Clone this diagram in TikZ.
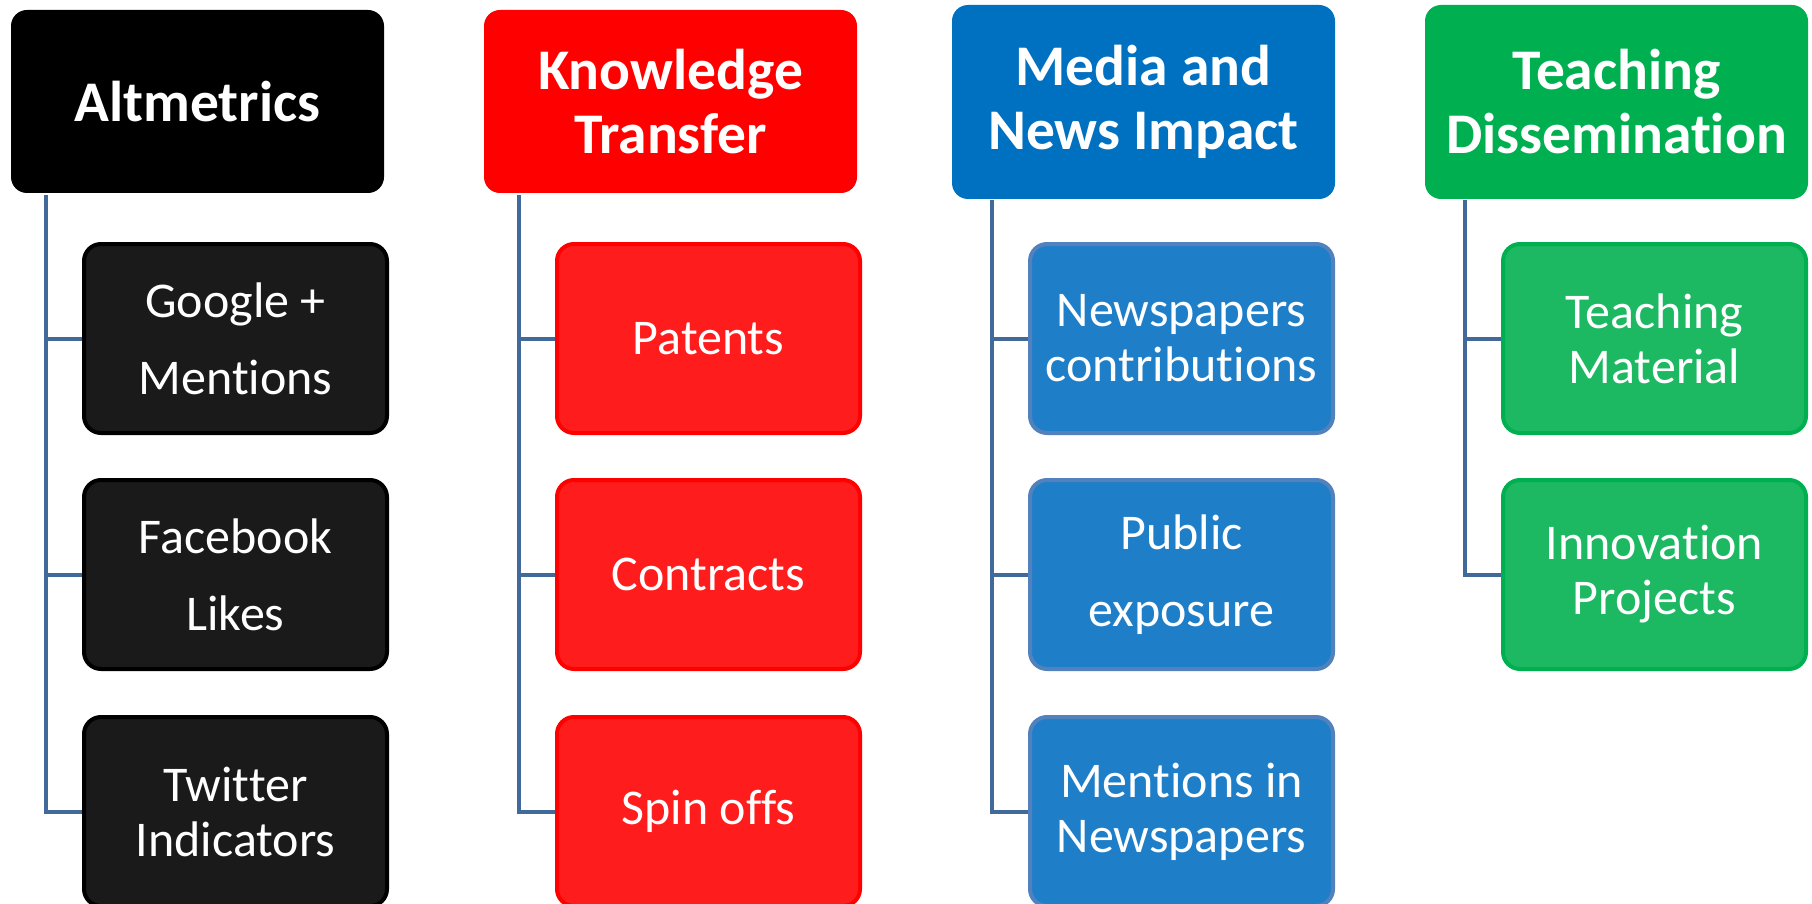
\documentclass[tikz,border=0pt]{standalone}
\usepackage{fontspec}
\setmainfont{Carlito}[Ligatures=NoCommon]
\newcommand\tIp{t\kern0pt i}
\newcommand\tTp{t\kern0pt t}
\definecolor{cblack}{HTML}{1A1A1A}
\definecolor{hred}{HTML}{FF0000}
\definecolor{cred}{HTML}{FF1C1C}
\definecolor{hblue}{HTML}{0070C0}
\definecolor{cblue}{HTML}{1F7EC8}
\definecolor{bblue}{HTML}{5282BE}
\definecolor{hgreen}{HTML}{00B050}
\definecolor{cgreen}{HTML}{1DB862}
\definecolor{conncol}{HTML}{41699A}
\tikzset{
  hdr/.style={rectangle, rounded corners=16pt, text=white, align=center,
    font=\fontsize{57.5}{64}\selectfont\bfseries, inner sep=0pt},
  chd/.style={rectangle, rounded corners=17pt, text=white, align=center,
    line width=4pt, minimum width=303pt, minimum height=189pt, inner sep=0pt},
  wide/.style={font=\fontsize{50}{77}\selectfont},
  tight/.style={font=\fontsize{50}{55}\selectfont},
  conn/.style={draw=conncol, line width=4pt, line join=miter},
}
\begin{document}
\begin{tikzpicture}[x=1pt,y=-1pt]
\useasboundingbox (0,0) rectangle (1812,904);
% headers
\node[hdr, fill=black, minimum width=373pt, minimum height=183pt] (A) at (197.5,101.5) {Altmetrics};
\node[hdr, fill=hred, minimum width=373pt, minimum height=183pt] (K) at (670.5,101.5) {Knowledge\\Transfer};
\node[hdr, fill=hblue, minimum width=383pt, minimum height=194pt] (M) at (1143.5,102) {Media and\\News Impact};
\node[hdr, fill=hgreen, minimum width=383pt, minimum height=194pt] (T) at (1616.5,102) {Teaching\\Dissemina\tIp on};
% Altmetrics children
\node[chd, wide, fill=cblack, draw=black] (A1) at (235.5,338.5) {Google +\\Men\tIp ons};
\node[chd, wide, fill=cblack, draw=black] (A2) at (235.5,574.5) {Facebook\\Likes};
\node[chd, tight, fill=cblack, draw=black] (A3) at (235.5,811.5) {Twi\tTp er\\Indicators};
% Knowledge children
\node[chd, wide, fill=cred, draw=hred] (K1) at (708.5,338.5) {Patents};
\node[chd, wide, fill=cred, draw=hred] (K2) at (708.5,574.5) {Contracts};
\node[chd, wide, fill=cred, draw=hred] (K3) at (708.5,811.5) {Spin offs};
% Media children
\node[chd, tight, fill=cblue, draw=bblue] (M1) at (1181.5,338.5) {Newspapers\\contribu\tIp ons};
\node[chd, wide, fill=cblue, draw=bblue] (M2) at (1181.5,574.5) {Public\\exposure};
\node[chd, tight, fill=cblue, draw=bblue] (M3) at (1181.5,811.5) {Men\tIp ons in\\Newspapers};
% Teaching children
\node[chd, tight, fill=cgreen, draw=hgreen] (T1) at (1654.5,338.5) {Teaching\\Material};
\node[chd, tight, fill=cgreen, draw=hgreen] (T2) at (1654.5,574.5) {Innova\tIp on\\Projects};
% connector tops
\coordinate (Ac) at (46,195);
\coordinate (Kc) at (519,195);
\coordinate (Mc) at (992,200);
\coordinate (Tc) at (1465,200);
% connectors
\draw[conn] (Ac) |- (A3.west);
\draw[conn] (Ac |- A1.west) -- (A1.west);
\draw[conn] (Ac |- A2.west) -- (A2.west);
\draw[conn] (Kc) |- (K3.west);
\draw[conn] (Kc |- K1.west) -- (K1.west);
\draw[conn] (Kc |- K2.west) -- (K2.west);
\draw[conn] (Mc) |- (M3.west);
\draw[conn] (Mc |- M1.west) -- (M1.west);
\draw[conn] (Mc |- M2.west) -- (M2.west);
\draw[conn] (Tc) |- (T2.west);
\draw[conn] (Tc |- T1.west) -- (T1.west);
\end{tikzpicture}
\end{document}
